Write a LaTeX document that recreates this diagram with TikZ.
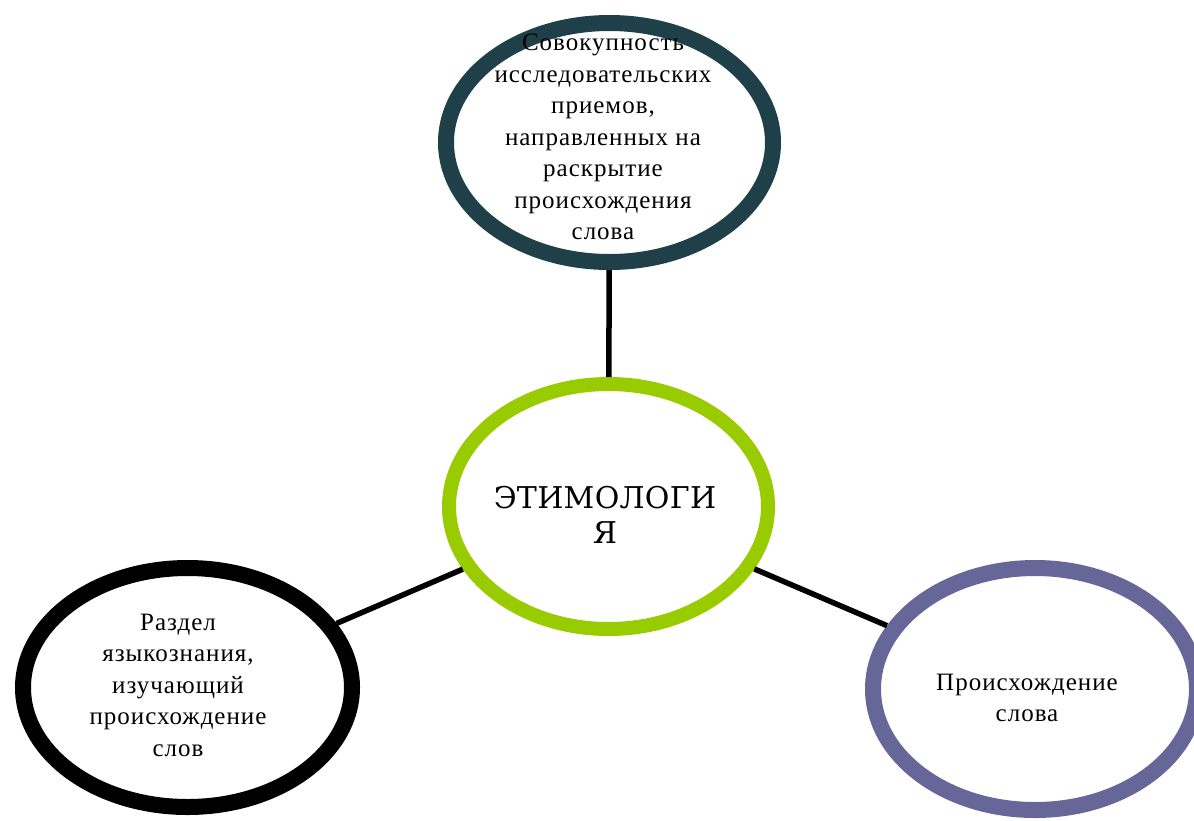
\documentclass[tikz,border=0pt]{standalone}
\usepackage{fontspec}
\setmainfont{Liberation Serif}[LetterSpace=4]
\newfontfamily\titlefont{DejaVu Serif}[LetterSpace=1]
\usetikzlibrary{shapes.geometric}
\definecolor{topc}{RGB}{31,64,72}
\definecolor{greenc}{RGB}{153,204,0}
\definecolor{purplec}{RGB}{102,102,153}
\tikzset{
  ring/.style={ellipse, fill=white, inner sep=0pt, line width=16pt},
  txt/.style={align=center, inner sep=0pt, font=\fontsize{25}{31.5}\selectfont},
  link/.style={line width=5.5pt, black}
}
\begin{document}
\begin{tikzpicture}[x=1pt,y=-1pt]
\useasboundingbox (0,0) rectangle (1194,820);
\node[ring, draw=topc, minimum width=327pt, minimum height=239pt] (top) at (609.5,142.5) {};
\node[ring, draw=greenc, line width=14pt, minimum width=319pt, minimum height=245pt] (mid) at (608.5,506.5) {};
\node[ring, draw=black, minimum width=329pt, minimum height=239pt] (left) at (187.5,687.5) {};
\node[ring, draw=purplec, minimum width=324pt, minimum height=242pt] (right) at (1035,689) {};
\draw[link] (top) -- (mid);
\draw[link] (mid) -- (left);
\draw[link] (mid) -- (right);
\node[txt] (toptext) at (603,137) {Совокупность\\исследовательских\\приемов,\\направленных на\\раскрытие\\происхождения\\слова};
\node[align=center, inner sep=0pt, font=\titlefont\fontsize{30}{35}\selectfont] (midtext) at (605,515) {ЭТИМОЛОГИ\\Я};
\node[txt] (lefttext) at (178,685) {Раздел\\языкознания,\\изучающий\\происхождение\\слов};
\node[txt] (righttext) at (1027,698) {Происхождение\\слова};
\end{tikzpicture}
\end{document}
